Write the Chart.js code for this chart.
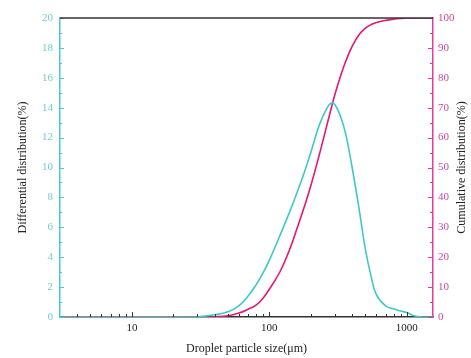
<!DOCTYPE html>
<html>
<head>
<meta charset="utf-8">
<script src="https://cdn.jsdelivr.net/npm/chart.js@4.4.1/dist/chart.umd.min.js"></script>
<style>
    html, body { margin: 0; padding: 0; background: #fff; }
    #wrap { width: 471px; height: 358px; }
</style>
</head>
<body>
<div id="wrap"><canvas id="psdChart"></canvas></div>
<script>
// droplet size (µm) and the two distributions
const sizes        = [3, 10, 20, 30, 40, 50, 60, 70, 80, 90, 100, 120, 140, 160, 180, 200, 230, 260, 280, 300, 330, 360, 400, 450, 500, 550, 600, 700, 800, 900, 1000, 1100, 1200, 1300, 1550];
const differential = [0, 0, 0, 0.02, 0.15, 0.35, 0.75, 1.4, 2.15, 2.95, 3.8, 5.5, 7.0, 8.4, 9.7, 11.0, 12.8, 13.9, 14.3, 14.2, 13.4, 12.2, 10.0, 7.2, 4.5, 2.7, 1.5, 0.75, 0.55, 0.4, 0.3, 0.12, 0.03, 0, 0];
const cumulative   = [0, 0, 0, 0, 0.1, 0.4, 1.3, 2.6, 4.0, 6.3, 9.3, 15.3, 22.4, 30.0, 37.0, 43.8, 54.0, 63.5, 69.3, 74.5, 80.7, 85.6, 90.5, 94.5, 96.6, 97.8, 98.5, 99.2, 99.6, 99.85, 100, 100, 100, 100, 100];

// axis ticks
const xLabelTicks = [10, 100, 1000];
const xMinorTicks = [4, 5, 6, 7, 8, 9, 20, 30, 40, 50, 60, 70, 80, 90, 200, 300, 400, 500, 600, 700, 800, 900];
const leftTicks   = [0, 2, 4, 6, 8, 10, 12, 14, 16, 18, 20];
const leftMinor   = [1, 3, 5, 7, 9, 11, 13, 15, 17, 19];
const rightTicks  = [0, 10, 20, 30, 40, 50, 60, 70, 80, 90, 100];
const rightMinor  = [5, 15, 25, 35, 45, 55, 65, 75, 85, 95];

const CYAN = 'rgb(62, 200, 202)';
const CYAN_AXIS = 'rgb(72, 200, 210)';
const CYAN_TEXT = 'rgb(112, 205, 214)';
const PINK = 'rgb(228, 22, 122)';
const PINK_AXIS = 'rgb(225, 60, 160)';
const PINK_TEXT = 'rgb(212, 70, 160)';
const DARK = '#333';
const SERIF = '"Liberation Serif", "Times New Roman", serif';

// tick marks drawn inside the frame, plus top edge and right title
const frameExtras = {
    id: 'frameExtras',
    afterDraw(chart) {
        const { ctx, chartArea: a, scales: { x, y, y1 } } = chart;
        ctx.save();
        ctx.lineWidth = 1;

        const mark = (color, list, fn) => {
            ctx.strokeStyle = color;
            ctx.beginPath();
            list.forEach(fn);
            ctx.stroke();
        };

        mark(DARK, xMinorTicks, v => {
            const px = Math.round(x.getPixelForValue(v)) + 0.5;
            ctx.moveTo(px, a.bottom); ctx.lineTo(px, a.bottom - 3);
        });
        mark(DARK, xLabelTicks, v => {
            const px = Math.round(x.getPixelForValue(v)) + 0.5;
            ctx.moveTo(px, a.bottom); ctx.lineTo(px, a.bottom - 5);
        });
        mark(CYAN_AXIS, leftTicks, v => {
            const py = Math.round(y.getPixelForValue(v)) + 0.5;
            ctx.moveTo(a.left, py); ctx.lineTo(a.left + 4, py);
        });
        mark(CYAN_AXIS, leftMinor, v => {
            const py = Math.round(y.getPixelForValue(v)) + 0.5;
            ctx.moveTo(a.left, py); ctx.lineTo(a.left + 2, py);
        });
        mark(PINK_AXIS, rightTicks, v => {
            const py = Math.round(y1.getPixelForValue(v)) + 0.5;
            ctx.moveTo(a.right, py); ctx.lineTo(a.right - 5, py);
        });
        mark(PINK_AXIS, rightMinor, v => {
            const py = Math.round(y1.getPixelForValue(v)) + 0.5;
            ctx.moveTo(a.right, py); ctx.lineTo(a.right - 3, py);
        });

        // top edge
        ctx.strokeStyle = DARK;
        ctx.lineWidth = 1.5;
        ctx.beginPath();
        ctx.moveTo(a.left, a.top);
        ctx.lineTo(a.right, a.top);
        ctx.stroke();

        // right title reads bottom-to-top like the left one
        ctx.translate(462, (a.top + a.bottom) / 2);
        ctx.rotate(-Math.PI / 2);
        ctx.fillStyle = '#222';
        ctx.font = '12px ' + SERIF;
        ctx.textAlign = 'center';
        ctx.textBaseline = 'middle';
        ctx.fillText('Cumulative distribution(%)', 0, 0);
        ctx.restore();
    }
};

function createChart() {
    const ctx = document.getElementById('psdChart').getContext('2d');

    return new Chart(ctx, {
        type: 'line',
        data: {
            datasets: [{
                label: 'Differential distribution',
                data: sizes.map((s, i) => ({ x: s, y: differential[i] })),
                borderColor: CYAN,
                borderWidth: 1.6,
                pointRadius: 0,
                tension: 0.4,
                yAxisID: 'y'
            }, {
                label: 'Cumulative distribution',
                data: sizes.map((s, i) => ({ x: s, y: cumulative[i] })),
                borderColor: PINK,
                borderWidth: 1.6,
                pointRadius: 0,
                tension: 0.4,
                yAxisID: 'y1'
            }]
        },
        options: {
            responsive: true,
            maintainAspectRatio: false,
            animation: false,
            layout: { padding: { top: 18, right: 0, left: 0, bottom: 0 } },
            plugins: {
                legend: { display: false },
                tooltip: { enabled: false }
            },
            scales: {
                x: {
                    type: 'logarithmic',
                    min: 3,
                    max: 1550,
                    afterBuildTicks: (axis) => { axis.ticks = xLabelTicks.map(v => ({ value: v })); },
                    afterFit: (axis) => { axis.height = 41; },
                    grid: { display: false, tickLength: 0 },
                    border: { display: true, color: DARK, width: 1.5 },
                    ticks: {
                        color: '#222',
                        autoSkip: false,
                        maxRotation: 0,
                        padding: 5,
                        font: { family: SERIF, size: 11 },
                        callback: (v) => String(v)
                    },
                    title: {
                        display: true,
                        text: 'Droplet particle size(μm)',
                        color: '#222',
                        font: { family: SERIF, size: 12 },
                        padding: { top: 0, bottom: 2 }
                    }
                },
                y: {
                    position: 'left',
                    min: 0,
                    max: 20,
                    afterBuildTicks: (axis) => { axis.ticks = leftTicks.map(v => ({ value: v })); },
                    afterFit: (axis) => { axis.width = 60; },
                    grid: { display: false, tickLength: 0 },
                    border: { display: true, color: CYAN_AXIS, width: 1.5 },
                    ticks: {
                        color: CYAN_TEXT,
                        padding: 7,
                        font: { family: SERIF, size: 11 }
                    },
                    title: {
                        display: true,
                        text: 'Differential distribution(%)',
                        color: '#222',
                        font: { family: SERIF, size: 12 },
                        padding: { top: 16, bottom: 0 }
                    }
                },
                y1: {
                    position: 'right',
                    min: 0,
                    max: 100,
                    afterBuildTicks: (axis) => { axis.ticks = rightTicks.map(v => ({ value: v })); },
                    afterFit: (axis) => { axis.width = 38; },
                    grid: { display: false, tickLength: 0 },
                    border: { display: true, color: PINK_AXIS, width: 1.5 },
                    ticks: {
                        color: PINK_TEXT,
                        padding: 5,
                        font: { family: SERIF, size: 11 }
                    }
                }
            }
        },
        plugins: [frameExtras]
    });
}

document.addEventListener('DOMContentLoaded', () => {
    createChart();
});
</script>
</body>
</html>
